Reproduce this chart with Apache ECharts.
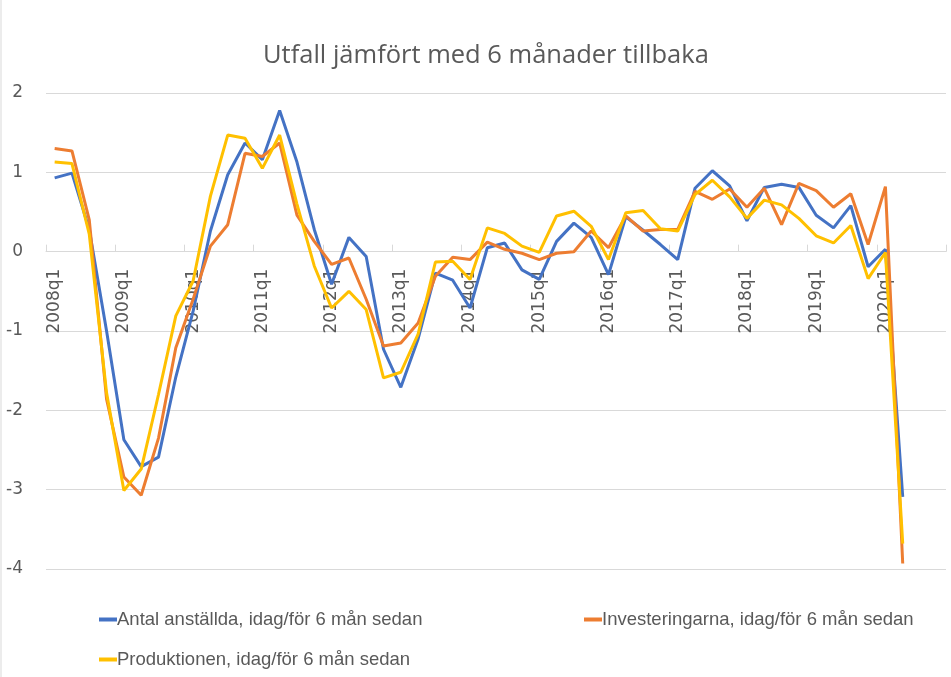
<!DOCTYPE html>
<html>
<head>
<meta charset="utf-8">
<script src="https://cdn.jsdelivr.net/npm/echarts@6/dist/echarts.min.js"></script>
<style>
  html, body { margin: 0; padding: 0; background: #fff; }
  #chart { width: 951px; height: 677px; }
</style>
</head>
<body>
<div id="chart"></div>
<script>
// quarters 2008q1 .. 2020q4 (data stops at 2020q2)
const years = [2008, 2009, 2010, 2011, 2012, 2013, 2014, 2015, 2016, 2017, 2018, 2019, 2020]
const quarters = []
years.forEach(y => {
  for (let q = 1; q <= 4; q += 1) quarters.push(`${y}q${q}`)
})

const antalAnstallda = [
  0.93, 0.99, 0.28, -1.0, -2.37, -2.71, -2.59, -1.58, -0.75, 0.26,
  0.97, 1.37, 1.16, 1.78, 1.13, 0.28, -0.41, 0.18, -0.06, -1.23,
  -1.71, -1.10, -0.27, -0.36, -0.71, 0.05, 0.11, -0.23, -0.35, 0.13,
  0.36, 0.18, -0.29, 0.44, 0.27, 0.09, -0.10, 0.80, 1.02, 0.83,
  0.39, 0.81, 0.85, 0.81, 0.46, 0.30, 0.58, -0.19, 0.03, -3.09
]
const investeringarna = [
  1.30, 1.27, 0.40, -1.86, -2.84, -3.07, -2.35, -1.21, -0.60, 0.07,
  0.34, 1.24, 1.20, 1.37, 0.46, 0.13, -0.16, -0.08, -0.60, -1.19,
  -1.15, -0.90, -0.31, -0.07, -0.10, 0.12, 0.03, -0.02, -0.10, -0.02,
  0.00, 0.26, 0.05, 0.45, 0.26, 0.28, 0.28, 0.76, 0.66, 0.79,
  0.56, 0.80, 0.34, 0.86, 0.77, 0.56, 0.73, 0.09, 0.82, -3.93
]
const produktionen = [
  1.13, 1.11, 0.22, -1.78, -3.01, -2.74, -1.80, -0.81, -0.37, 0.70,
  1.47, 1.43, 1.05, 1.47, 0.60, -0.18, -0.71, -0.50, -0.73, -1.59,
  -1.52, -1.04, -0.13, -0.12, -0.35, 0.30, 0.23, 0.07, -0.01, 0.45,
  0.51, 0.32, -0.10, 0.49, 0.52, 0.29, 0.26, 0.72, 0.90, 0.69,
  0.42, 0.65, 0.59, 0.42, 0.20, 0.11, 0.33, -0.34, -0.01, -3.68
]

const seriesNames = [
  'Antal anställda, idag/för 6 mån sedan',
  'Investeringarna, idag/för 6 mån sedan',
  'Produktionen, idag/för 6 mån sedan'
]
const seriesColors = ['#4472C4', '#ED7D31', '#FFC000']
const seriesData = [antalAnstallda, investeringarna, produktionen]

const textColor = '#595959'
const gridColor = '#D9D9D9'

const gridTop = 93
const gridBottom = 108
const yMin = -4
const yMax = 2
// plot height in px; x axis sits on the zero line
const plotHeight = 677 - gridTop - gridBottom
const zeroOffset = -plotHeight * (0 - yMin) / (yMax - yMin)

const chart = echarts.init(document.getElementById('chart'))

const legendPos = [
  { left: 94, top: 605 },
  { left: 579, top: 605 },
  { left: 94, top: 645 }
]

chart.setOption({
  animation: false,
  title: {
    text: 'Utfall jämfört med 6 månader tillbaka',
    left: 258,
    top: 38,
    textStyle: {
      color: textColor,
      fontFamily: 'Open Sans',
      fontSize: 25.5,
      fontWeight: 'normal'
    }
  },
  legend: seriesNames.map((name, i) => ({
    data: [name],
    left: legendPos[i].left,
    top: legendPos[i].top,
    icon: 'rect',
    itemWidth: 18,
    itemHeight: 4,
    itemGap: 0,
    textStyle: {
      color: textColor,
      fontFamily: 'Liberation Sans',
      fontSize: 18.5,
      padding: [0, 0, 0, -5]
    }
  })),
  grid: { left: 46, right: 5, top: gridTop, bottom: gridBottom, containLabel: false },
  xAxis: {
    type: 'category',
    data: quarters,
    boundaryGap: true,
    offset: zeroOffset,
    axisLine: { onZero: false, lineStyle: { color: gridColor, width: 1 } },
    axisTick: { show: true, inside: true, length: 7, interval: 3, lineStyle: { color: gridColor } },
    axisLabel: {
      interval: 3,
      rotate: 90,
      margin: 17,
      color: textColor,
      fontFamily: 'DejaVu Sans',
      fontSize: 17
    },
    splitLine: { show: false }
  },
  yAxis: {
    type: 'value',
    min: yMin,
    max: yMax,
    interval: 1,
    axisLine: { show: false },
    axisTick: { show: false },
    axisLabel: {
      margin: 23,
      color: textColor,
      fontFamily: 'DejaVu Sans',
      fontSize: 17
    },
    splitLine: { lineStyle: { color: gridColor, width: 1 } }
  },
  graphic: [
    {
      type: 'line',
      shape: { x1: 1, y1: 0, x2: 1, y2: 677 },
      style: { stroke: gridColor, lineWidth: 1 }
    }
  ],
  series: seriesNames.map((name, i) => ({
    name,
    type: 'line',
    data: seriesData[i],
    symbol: 'none',
    smooth: false,
    lineStyle: { color: seriesColors[i], width: 3 },
    itemStyle: { color: seriesColors[i] }
  }))
})
</script>
</body>
</html>
